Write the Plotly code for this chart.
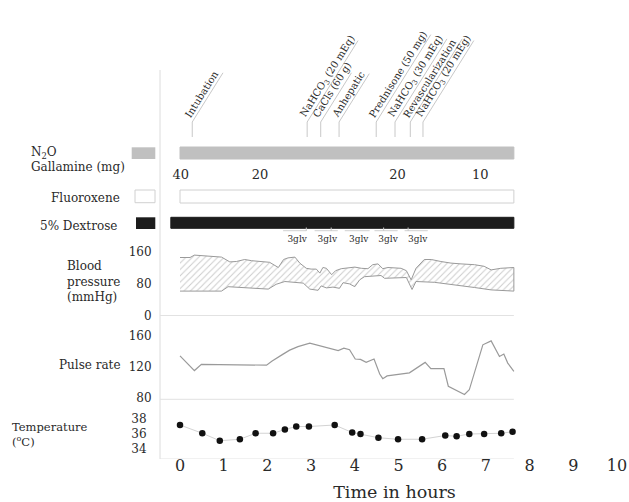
import math
import plotly.graph_objects as go

# ---------------- data ----------------
hour_ticks = list(range(0, 11))

event_times = [0.28, 2.91, 3.22, 3.64, 4.49, 4.92, 5.27, 5.56]
event_labels = ["Intubation", "NaHCO<sub>3</sub> (20 mEq)", "CaCls (60 g)", "Anhepatic",
                "Prednisone (50 mg)", "NaHCO<sub>3</sub> (30 mEq)", "Revascularization",
                "NaHCO<sub>3</sub> (20 mEg)"]

infusion_names = ["N<sub>2</sub>O", "Fluoroxene", "5% Dextrose"]
infusion_start = [0.0, 0.0, -0.21]
infusion_end = [7.64, 7.64, 7.64]

gallamine_times = [0.02, 1.83, 4.98, 6.87]
gallamine_doses = ["40", "20", "20", "10"]

glv_times = [2.68, 3.37, 4.09, 4.76, 5.44]
glv_text = ["3glv", "3glv", "3glv", "3glv", "3glv"]
glv_bracket_start = [2.36, 3.08, 3.77, 4.45, 5.14]
glv_bracket_end = [2.89, 3.61, 4.34, 4.98, 5.67]
glv_tick_times = [2.89, 3.46, 4.66, 5.22]

bp_sys_t = [0, 0.23, 0.33, 0.95, 1.14, 1.29, 1.48, 1.64, 2.05, 2.25, 2.37, 2.47, 2.63, 2.74,
            2.89, 3.0, 3.12, 3.2, 3.27, 3.35, 3.47, 3.56, 3.69, 4.0, 4.15, 4.3, 4.41, 4.53,
            4.64, 4.76, 5.06, 5.18, 5.29, 5.4, 5.59, 5.75, 5.97, 6.2, 6.43, 6.74, 6.96, 7.12,
            7.34, 7.57, 7.64]
bp_sys = [145, 145, 151, 146, 134, 135, 140, 137, 133, 120, 140, 144, 146, 131,
          118, 116, 116, 106, 120, 118, 102, 112, 117, 121, 118, 117, 127, 129,
          117, 120, 118, 112, 89, 118, 140, 140, 135, 131, 129, 127, 123, 114,
          118, 120, 120]
bp_dia_t = [0, 0.95, 1.1, 2.02, 2.2, 2.4, 2.66, 2.82, 2.97, 3.16, 3.23, 3.35, 3.5, 3.65,
            3.73, 3.88, 4.0, 4.11, 4.22, 4.6, 4.68, 5.18, 5.31, 5.4, 5.82, 6.2, 6.74, 7.12,
            7.64]
bp_dia = [61, 61, 72, 66, 78, 85, 83, 81, 66, 63, 74, 69, 71, 68,
          82, 79, 72, 89, 97, 100, 93, 95, 65, 85, 83, 78, 70, 64,
          61]

pulse_t = [0, 0.33, 0.49, 1.98, 2.1, 2.2, 2.35, 2.51, 2.7, 2.97, 3.54, 3.62, 3.75, 3.88,
           4.01, 4.13, 4.26, 4.44, 4.57, 4.64, 4.74, 5.25, 5.61, 5.74, 6.04, 6.14, 6.51,
           6.62, 6.93, 7.12, 7.31, 7.41, 7.5, 7.64]
pulse = [134, 115, 123, 122, 127, 131, 136, 141.5, 146, 150.5, 143, 141, 144, 142,
         130, 129.5, 125.6, 130, 110.5, 104.5, 108, 112, 125.6, 117.4, 117.4, 94.6, 84,
         90, 148.4, 153.5, 133.3, 136.5, 124.7, 114]

temp_t = [0, 0.51, 0.91, 1.37, 1.73, 2.13, 2.4, 2.66, 2.95, 3.54, 3.94, 4.13, 4.54, 4.99,
          5.54, 6.07, 6.33, 6.62, 6.96, 7.35, 7.61]
temp = [37.2, 36.1, 35.1, 35.3, 36.1, 36.1, 36.6, 37.0, 37.0, 37.2, 36.2, 36.0, 35.5, 35.3,
        35.3, 35.8, 35.7, 36.0, 36.0, 36.1, 36.3]

# ---------------- geometry / style ----------------
PAGE_W, PAGE_H = 629, 502
OFF = 0  # page body margin removed via post_script
W, H = PAGE_W - OFF, PAGE_H - OFF
T0_PX, PX_PER_H = 180.0, 43.7
PLOT_LEFT = 160.0
T_END = 7.64


def pxp(x):
    return (x - OFF) / W


def pyp(y):
    return 1 - (y - OFF) / H


x_range = [(PLOT_LEFT - T0_PX) / PX_PER_H, (PAGE_W - T0_PX) / PX_PER_H]


def temp_v(y):
    return 36 + (434 - y) / 7.5


def pulse_v(y):
    return 80 + (397.5 - y) / 0.77


def bp_v(y):
    return (315.5 - y) / 0.4


SERIF = "DejaVu Serif"
TXT = "#2a2a2a"
LINEGRAY = "#9a9a9a"

lane_pos = [153, 196.5, 222.8]
lane_width = [12, 13, 11]
lane_fill = ["#c0c0c0", "white", "#1c1c1c"]
lane_edge = ["#c0c0c0", "#d0d0d0", "#1c1c1c"]

fig = go.Figure()

# blood pressure band
fig.add_trace(go.Scatter(
    x=bp_sys_t + bp_dia_t[::-1], y=bp_sys + bp_dia[::-1], mode="lines",
    fill="toself", fillcolor="white",
    fillpattern=dict(shape="/", fgcolor="#999999", bgcolor="white", size=4.5, solidity=0.22),
    line=dict(color=LINEGRAY, width=1), xaxis="x", yaxis="y3", hoverinfo="skip"))

# pulse
fig.add_trace(go.Scatter(x=pulse_t, y=pulse, mode="lines",
                         line=dict(color=LINEGRAY, width=1.2), xaxis="x", yaxis="y2"))

# temperature
fig.add_trace(go.Scatter(x=temp_t, y=temp, mode="lines+markers",
                         line=dict(color="#d3d3d3", width=1),
                         marker=dict(color="#111111", size=6.5),
                         xaxis="x", yaxis="y"))

# infusion bars
fig.add_trace(go.Bar(
    y=lane_pos, x=[e - s for s, e in zip(infusion_start, infusion_end)], base=infusion_start,
    orientation="h", width=lane_width,
    marker=dict(color=lane_fill, line=dict(color=lane_edge, width=1)),
    xaxis="x", yaxis="y4", hoverinfo="skip"))

# gallamine doses
fig.add_trace(go.Scatter(x=gallamine_times, y=[175.5] * len(gallamine_times), mode="text",
                         text=gallamine_doses, textfont=dict(family=SERIF, size=13, color=TXT),
                         xaxis="x", yaxis="y4"))

# 3glv
fig.add_trace(go.Scatter(x=glv_times, y=[239.5] * len(glv_times), mode="text",
                         text=glv_text, textfont=dict(family=SERIF, size=9, color=TXT),
                         xaxis="x", yaxis="y4"))

shapes = []
# left vertical rule
shapes.append(dict(type="line", xref="paper", yref="paper", x0=pxp(160), x1=pxp(160),
                   y0=pyp(70), y1=pyp(459), line=dict(color="#dcdcdc", width=1)))
# baselines
shapes.append(dict(type="line", xref="x", yref="y3", x0=x_range[0], x1=T_END, y0=0, y1=0,
                   line=dict(color="#e2e2e2", width=1)))
shapes.append(dict(type="line", xref="x", yref="y2", x0=x_range[0], x1=T_END, y0=pulse_v(399.3),
                   y1=pulse_v(399.3), line=dict(color="#e2e2e2", width=1)))
shapes.append(dict(type="line", xref="x", yref="y", x0=x_range[0], x1=T_END, y0=temp_v(459),
                   y1=temp_v(459), line=dict(color="#e2e2e2", width=1)))

# legend swatches
shapes.append(dict(type="rect", xref="paper", yref="paper", x0=pxp(131.7), x1=pxp(155.3),
                   y0=pyp(159), y1=pyp(147.3), fillcolor="#c0c0c0", line=dict(width=0)))
shapes.append(dict(type="rect", xref="paper", yref="paper", x0=pxp(135), x1=pxp(155),
                   y0=pyp(202.7), y1=pyp(190), fillcolor="white",
                   line=dict(color="#d0d0d0", width=1)))
shapes.append(dict(type="rect", xref="paper", yref="paper", x0=pxp(136), x1=pxp(155.3),
                   y0=pyp(229), y1=pyp(217.3), fillcolor="#1c1c1c", line=dict(width=0)))

# 3glv brackets
for s, e in zip(glv_bracket_start, glv_bracket_end):
    shapes.append(dict(type="line", xref="x", yref="y4", x0=s, x1=e, y0=230.7, y1=230.7,
                       line=dict(color="#d0d0d0", width=1)))
for t in glv_tick_times:
    shapes.append(dict(type="line", xref="x", yref="y4", x0=t, x1=t, y0=227.5, y1=231,
                       line=dict(color="#c8c8c8", width=1)))

# event markers
ANG = 58.0
ca, sa = math.cos(math.radians(ANG)), math.sin(math.radians(ANG))
leader_len = [58, 96, 58, 57, 103, 98, 98, 96]
annotations = []
for t, lab_txt, L in zip(event_times, event_labels, leader_len):
    shapes.append(dict(type="line", xref="x", yref="paper", x0=t, x1=t, y0=pyp(137), y1=pyp(122),
                       line=dict(color="#c8c8c8", width=1)))
    shapes.append(dict(type="line", xref="x", xsizemode="pixel", xanchor=t, x0=0, x1=L * ca,
                       yref="paper", ysizemode="pixel", yanchor=pyp(122), y0=0, y1=L * sa,
                       line=dict(color="#c8c8c8", width=1)))
    annotations.append(dict(x=t, y=pyp(122), xref="x", yref="paper", text=lab_txt,
                            showarrow=False, textangle=-ANG, xanchor="left", yanchor="bottom",
                            xshift=-11, yshift=1, borderpad=0,
                            font=dict(family=SERIF, size=10, color=TXT)))


# left-side labels
def lab(text, x, y, anchor="left", size=12, align="left"):
    annotations.append(dict(x=pxp(x), y=pyp(y), xref="paper", yref="paper", text=text,
                            showarrow=False, xanchor=anchor, yanchor="middle", align=align,
                            font=dict(family=SERIF, size=size, color=TXT)))


lab(infusion_names[0], 29, 152.7)
lab("Gallamine (mg)", 29, 166.7)
lab(infusion_names[1], 122, 197.7, anchor="right")
lab(infusion_names[2], 119, 225.7, anchor="right")
lab("Blood<br>pressure<br>(mmHg)", 64.5, 281.7)
lab("Pulse rate", 56.5, 365)
lab("Temperature<br>(<sup>o</sup>C)", 10, 434, size=11.5)

fig.update_layout(
    width=W, height=H, margin=dict(l=0, r=0, t=0, b=0),
    paper_bgcolor="white", plot_bgcolor="white", showlegend=False, barmode="overlay",
    font=dict(family=SERIF, color=TXT),
    xaxis=dict(domain=[pxp(PLOT_LEFT), 1], range=x_range, tickvals=hour_ticks,
               showgrid=False, zeroline=False, showline=False,
               anchor="free", position=pyp(454), ticks="",
               tickfont=dict(family=SERIF, size=16, color=TXT),
               title=dict(text="Time in hours", font=dict(family=SERIF, size=17.5, color=TXT),
                          standoff=14),
               automargin=False),
    yaxis=dict(domain=[pyp(459), pyp(410)], range=[temp_v(459), temp_v(410)],
               tickvals=[34, 36, 38], showgrid=False, zeroline=False, showline=False,
               anchor="x", ticks="outside", ticklen=10, tickcolor="rgba(0,0,0,0)",
               tickfont=dict(family=SERIF, size=12, color=TXT), automargin=False),
    yaxis2=dict(domain=[pyp(400), pyp(328)], range=[pulse_v(400), pulse_v(328)],
                tickvals=[80, 120, 160], showgrid=False, zeroline=False, showline=False,
                anchor="x", ticks="outside", ticklen=5, tickcolor="rgba(0,0,0,0)",
                tickfont=dict(family=SERIF, size=12, color=TXT), automargin=False),
    yaxis3=dict(domain=[pyp(317), pyp(245)], range=[bp_v(317), bp_v(245)],
                tickvals=[0, 80, 160], showgrid=False, zeroline=False, showline=False,
                anchor="x", ticks="outside", ticklen=5, tickcolor="rgba(0,0,0,0)",
                tickfont=dict(family=SERIF, size=12, color=TXT), automargin=False),
    yaxis4=dict(domain=[pyp(246), pyp(100)], range=[246, 100], visible=False,
                anchor="x", fixedrange=True),
    shapes=shapes, annotations=annotations,
)

fig.write_html("out.html", config={"displayModeBar": False},
               post_script="document.body.style.margin='0';document.body.style.overflow='hidden';")
